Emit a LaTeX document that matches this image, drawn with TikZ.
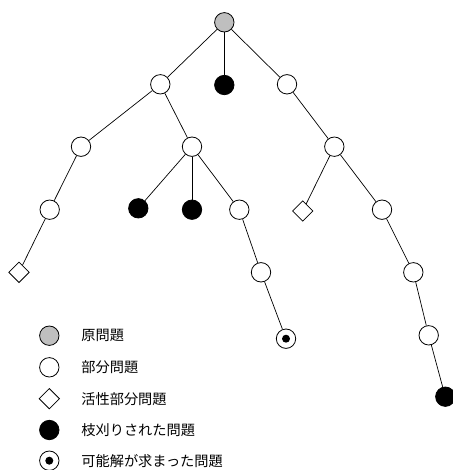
\documentclass[tikz,border=0pt]{standalone}
\usepackage{fontspec}
\usetikzlibrary{shapes.geometric}
\newfontfamily\jp{Noto Sans CJK JP}
\begin{document}
\begin{tikzpicture}[x=1pt,y=-1pt,
  every path/.style={line width=0.8pt},
  sub/.style={circle,draw,fill=white,minimum size=19.4pt,inner sep=0pt},
  orig/.style={sub,fill=black!25},
  pruned/.style={sub,fill=black},
  active/.style={diamond,draw,fill=white,minimum size=20.6pt,inner sep=0pt},
  feas/.style={sub},
  fdot/.style={circle,fill=black,minimum size=8pt,inner sep=0pt},
  lbl/.style={anchor=west,font=\jp\fontsize{14.2}{17}\selectfont,inner sep=0pt},
  edge/.style={draw,line width=0.7pt}]
\useasboundingbox (0,0) rectangle (452,470);
% tree
\node[orig] (root) at (224.3,22.3) {};
\node[sub] (A) at (160.3,84.3) {};
\node[pruned] (B) at (224.3,85) {};
\node[sub] (C) at (287,84.3) {};
\node[sub] (D) at (81,146.7) {};
\node[sub] (E) at (192,146.7) {};
\node[sub] (F) at (334.3,146.7) {};
\node[sub] (G) at (49.7,209.7) {};
\node[pruned] (H) at (138.3,208.3) {};
\node[pruned] (I) at (192,209.7) {};
\node[sub] (J) at (239.3,209.7) {};
\node[active] (K) at (302.7,211) {};
\node[sub] (L) at (382,209.7) {};
\node[active] (M) at (19,272.3) {};
\node[sub] (N) at (261,272.3) {};
\node[sub] (O) at (413.3,272.3) {};
\node[feas] (P) at (286,338.7) {};
\node[fdot] (Pdot) at (P) {};
\node[sub] (Q) at (428.7,335.3) {};
\node[pruned] (R) at (445.3,396.7) {};
\foreach \a/\b in {root/A,root/B,root/C,A/D,A/E,C/F,D/G,E/H,E/I,E/J,F/K,F/L,G/M,J/N,N/P,L/O,O/Q,Q/R}
  \draw[edge] (\a) -- (\b);
% legend
\node[orig] (l1) at (49.3,335.7) {};
\node[sub] (l2) at (49.3,367.3) {};
\node[active] (l3) at (49.3,398.7) {};
\node[pruned] (l4) at (49.3,430) {};
\node[feas] (l5) at (49.3,460.7) {};
\node[fdot] (l5dot) at (l5) {};
\node[lbl] (t1) at (81,335.7) {原問題};
\node[lbl] (t2) at (81,367.3) {部分問題};
\node[lbl] (t3) at (81,398.7) {活性部分問題};
\node[lbl] (t4) at (81,430) {枝刈りされた問題};
\node[lbl] (t5) at (81,460.7) {可能解が求まった問題};
\end{tikzpicture}
\end{document}
